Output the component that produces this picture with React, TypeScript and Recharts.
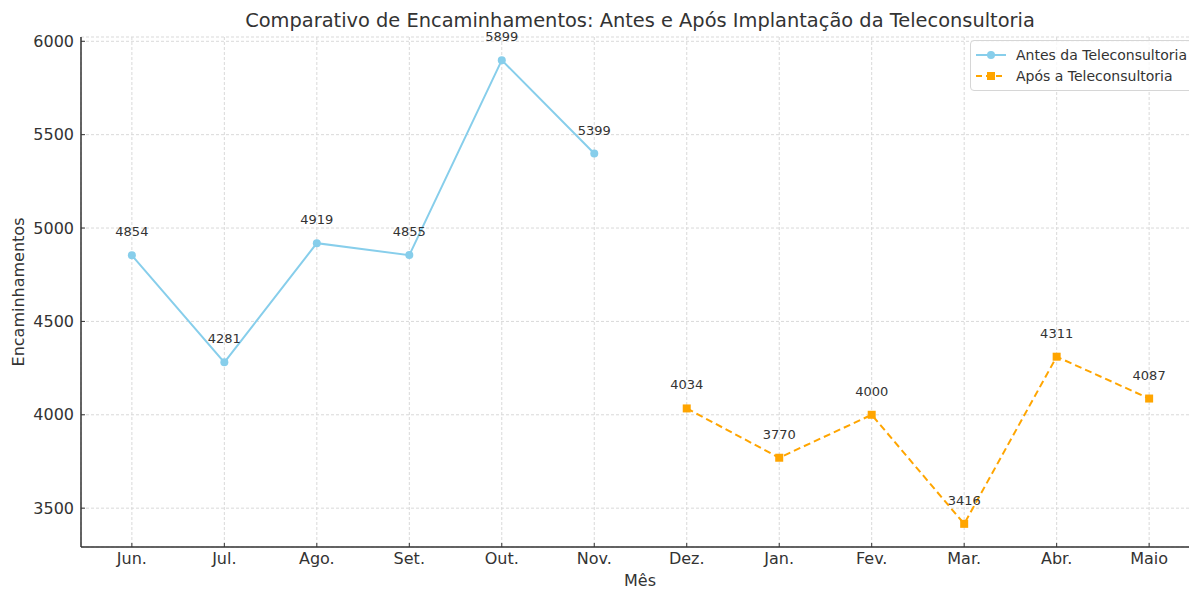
import React from 'react';
import {
  LineChart,
  Line,
  XAxis,
  YAxis,
  CartesianGrid,
  LabelList,
} from 'recharts';

const months = ['Jun.', 'Jul.', 'Ago.', 'Set.', 'Out.', 'Nov.', 'Dez.', 'Jan.', 'Fev.', 'Mar.', 'Abr.', 'Maio'];
const antes = [4854, 4281, 4919, 4855, 5899, 5399, null, null, null, null, null, null];
const apos = [null, null, null, null, null, null, 4034, 3770, 4000, 3416, 4311, 4087];
const yTicks = [3500, 4000, 4500, 5000, 5500, 6000];

const FONT = '"DejaVu Sans", Verdana, sans-serif';
const BLUE = '#87ceeb';
const ORANGE = '#ffa500';
const TEXT = '#333333';
const AXIS = '#333333';

const data = months.map((m, i) => ({ x: i, antes: antes[i], apos: apos[i] }));

const SquareDot = (props: any) => {
  const { cx, cy, index } = props;
  if (cx == null || cy == null || props.value == null) return <g key={`sq-${index}`} />;
  return <rect key={`sq-${index}`} x={cx - 4} y={cy - 4} width={8} height={8} fill={ORANGE} />;
};

// ticks point inward, like matplotlib's direction='in'
const XTick = (props: any) => {
  const { x, y, payload } = props;
  return (
    <g>
      <line x1={x} x2={x} y1={y - 6} y2={y - 10} stroke={AXIS} strokeWidth={1} />
      <text x={x} y={y} dy="0.71em" textAnchor="middle" fontSize={16} fill={TEXT}>
        {months[payload.value]}
      </text>
    </g>
  );
};

const YTick = (props: any) => {
  const { x, y, payload } = props;
  return (
    <g>
      <line x1={x + 7} x2={x + 11} y1={y} y2={y} stroke={AXIS} strokeWidth={1} />
      <text x={x} y={y} dy="0.355em" textAnchor="end" fontSize={16} fill={TEXT}>
        {payload.value}
      </text>
    </g>
  );
};

// legend drawn as an overlay so it takes no room from the plot
const LegendBox = () => (
  <div
    style={{
      position: 'absolute',
      left: 970,
      top: 40,
      border: '1px solid #d6d6d6',
      borderRadius: 4,
      background: 'rgba(255,255,255,0.8)',
      padding: '3px 8px 4px 4px',
      fontFamily: FONT,
      fontSize: 14,
      color: TEXT,
      width: 240,
      zIndex: 2,
    }}
  >
    <div style={{ display: 'flex', alignItems: 'center', height: 21 }}>
      <svg width={34} height={12} style={{ marginRight: 7 }}>
        <line x1={1} y1={6} x2={31} y2={6} stroke={BLUE} strokeWidth={2} />
        <circle cx={16} cy={6} r={4} fill={BLUE} />
      </svg>
      Antes da Teleconsultoria
    </div>
    <div style={{ display: 'flex', alignItems: 'center', height: 21 }}>
      <svg width={34} height={12} style={{ marginRight: 7 }}>
        <line x1={1} y1={6} x2={31} y2={6} stroke={ORANGE} strokeWidth={2} strokeDasharray="6 4" />
        <rect x={12} y={2} width={8} height={8} fill={ORANGE} />
      </svg>
      Após a Teleconsultoria
    </div>
  </div>
);

export default function App() {
  return (
    <div
      style={{
        position: 'absolute',
        left: 0,
        top: 0,
        width: 1189,
        height: 590,
        overflow: 'hidden',
        background: '#fff',
      }}
    >
      <div
        style={{
          position: 'absolute',
          top: 9,
          left: 0,
          width: 1280,
          textAlign: 'center',
          fontFamily: FONT,
          fontSize: 19.4,
          color: TEXT,
        }}
      >
        Comparativo de Encaminhamentos: Antes e Após Implantação da Teleconsultoria
      </div>
      <div
        style={{
          position: 'absolute',
          top: 571,
          left: 0,
          width: 1280,
          textAlign: 'center',
          fontFamily: FONT,
          fontSize: 16,
          color: TEXT,
        }}
      >
        Mês
      </div>
      <div
        style={{
          position: 'absolute',
          left: 18,
          top: 292,
          transform: 'translate(-50%, -50%) rotate(-90deg)',
          fontFamily: FONT,
          fontSize: 16,
          color: TEXT,
          whiteSpace: 'nowrap',
        }}
      >
        Encaminhamentos
      </div>
      <LegendBox />
      <LineChart
        width={1210}
        height={590}
        data={data}
        margin={{ top: 37, right: 10, left: 0, bottom: 0 }}
        style={{ fontFamily: FONT }}
      >
        <CartesianGrid stroke="#d9d9d9" strokeDasharray="3 2" />
        <XAxis
          dataKey="x"
          type="number"
          domain={[-0.55, 11.55]}
          ticks={months.map((_, i) => i)}
          height={43}
          axisLine={{ stroke: AXIS, strokeWidth: 1.5 }}
          tickLine={false}
          tickSize={0}
          tickMargin={6}
          tick={<XTick />}
          allowDataOverflow
        />
        <YAxis
          type="number"
          domain={[3292, 6023]}
          ticks={yTicks}
          width={81}
          axisLine={{ stroke: AXIS, strokeWidth: 1.5 }}
          tickLine={false}
          tickSize={0}
          tickMargin={7}
          tick={<YTick />}
          allowDataOverflow
        />
        <Line
          type="linear"
          dataKey="antes"
          name="Antes da Teleconsultoria"
          stroke={BLUE}
          strokeWidth={2}
          dot={{ r: 4, fill: BLUE, stroke: BLUE, strokeWidth: 0 }}
          activeDot={false}
          connectNulls={false}
          isAnimationActive={false}
        >
          <LabelList dataKey="antes" position="top" offset={19} style={{ fontSize: 13, fill: TEXT }} />
        </Line>
        <Line
          type="linear"
          dataKey="apos"
          name="Após a Teleconsultoria"
          stroke={ORANGE}
          strokeWidth={2}
          strokeDasharray="7 4"
          dot={SquareDot}
          activeDot={false}
          connectNulls={false}
          isAnimationActive={false}
        >
          <LabelList dataKey="apos" position="top" offset={19} style={{ fontSize: 13, fill: TEXT }} />
        </Line>
      </LineChart>
    </div>
  );
}
